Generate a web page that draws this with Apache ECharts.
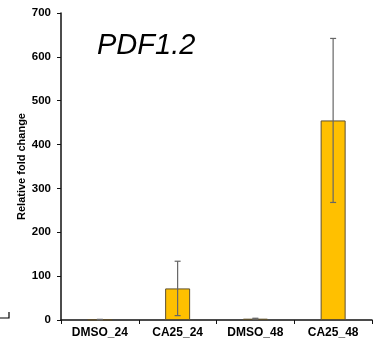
<!DOCTYPE html>
<html>
<head>
<meta charset="utf-8">
<script src="https://cdn.jsdelivr.net/npm/echarts@6/dist/echarts.min.js"></script>
<style>html,body{margin:0;padding:0;background:#fff;}#c{width:382px;height:340px;}</style>
</head>
<body>
<div id="c"></div>
<script>
var categories = ['DMSO_24', 'CA25_24', 'DMSO_48', 'CA25_48'];
var values = [1, 72, 3, 455];
var errors = [0.5, 62, 1, 187];
var yTicks = [0, 100, 200, 300, 400, 500, 600, 700];

var chart = echarts.init(document.getElementById('c'));
var font = 'Liberation Sans, Arial, sans-serif';
chart.setOption({
  animation: false,
  grid: {left: 61, right: 10, top: 13, bottom: 20},
  title: {text: 'PDF1.2', left: 92, top: 26, textStyle: {fontFamily: font, fontStyle: 'italic', fontWeight: 'normal', fontSize: 29, color: '#000'}},
  xAxis: {
    type: 'category', data: categories,
    axisLine: {lineStyle: {color: '#111', width: 1.5}},
    axisTick: {show: true, alignWithLabel: false, length: 4, lineStyle: {color: '#111'}},
    axisLabel: {fontFamily: font, fontWeight: 'bold', fontSize: 12, color: '#000', margin: 7}
  },
  yAxis: {
    type: 'value', min: yTicks[0], max: yTicks[yTicks.length - 1], interval: 100,
    name: 'Relative fold change', nameLocation: 'middle', nameGap: 34, nameMoveOverlap: false,
    nameTextStyle: {fontFamily: font, fontWeight: 'bold', fontSize: 11, color: '#000'},
    axisLine: {show: true, lineStyle: {color: '#111', width: 1.5}},
    axisTick: {show: true, inside: false, length: 4, lineStyle: {color: '#111'}},
    splitLine: {show: false},
    axisLabel: {fontFamily: font, fontWeight: 'bold', fontSize: 11.5, color: '#000', margin: 10}
  },
  series: [
    {
      type: 'bar', data: values, barWidth: 25,
      itemStyle: {color: '#FFC000', borderColor: '#5e5030', borderWidth: 1}
    },
    {
      type: 'custom',
      data: values.map(function (v, i) { return [i, v - errors[i], v + errors[i]]; }),
      renderItem: function (params, api) {
        var x = api.coord([api.value(0), 0])[0];
        var lo = api.coord([api.value(0), api.value(1)])[1];
        var hi = api.coord([api.value(0), api.value(2)])[1];
        var s = {stroke: '#666', lineWidth: 1.2};
        return {type: 'group', children: [
          {type: 'line', shape: {x1: x, y1: lo, x2: x, y2: hi}, style: s},
          {type: 'line', shape: {x1: x - 3, y1: hi, x2: x + 3, y2: hi}, style: s},
          {type: 'line', shape: {x1: x - 3, y1: lo, x2: x + 3, y2: lo}, style: s}
        ]};
      },
      z: 10
    }
  ],
  graphic: [
    {type: 'polyline', shape: {points: [[0, 318], [9, 318], [9, 312]]}, style: {stroke: '#000', lineWidth: 1.2, fill: null}}
  ]
});
</script>
</body>
</html>
